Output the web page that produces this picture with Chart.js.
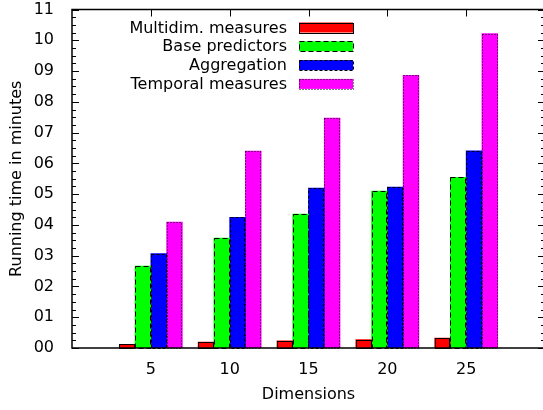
<!DOCTYPE html>
<html>
<head>
<meta charset="utf-8">
<script src="https://cdn.jsdelivr.net/npm/chart.js@4.4.1/dist/chart.umd.min.js"></script>
<style>
  html, body { margin: 0; padding: 0; background: #fff; overflow: hidden; }
  #wrap { width: 548px; height: 410px; }
</style>
</head>
<body>
<div id="wrap"><canvas id="myChart"></canvas></div>
<script>
// running times (minutes) per number of dimensions
const dimensions = ["5", "10", "15", "20", "25"];
const multidimMeasures = [0.12, 0.19, 0.23, 0.27, 0.32];
const basePredictors = [2.66, 3.57, 4.35, 5.1, 5.55];
const aggregation = [3.07, 4.25, 5.2, 5.23, 6.41];
const temporalMeasures = [4.09, 6.4, 7.47, 8.86, 10.22];
const yMax = 11;

Chart.defaults.font.family = "'DejaVu Sans', sans-serif";
Chart.defaults.font.size = 16;
Chart.defaults.color = "#000";

// slot 0..3 inside each cluster, bar width = 0.2 of a category step
function series(label, values, color, dash, slot) {
  return {
    label: label,
    data: values.map(function (v, i) {
      return { x: i + (slot - 1.5) * 0.2, y: v };
    }),
    backgroundColor: color,
    borderWidth: 0,
    outlineDash: dash,
  };
}

// gnuplot-like frame, inward ticks, dashed bar outlines and key
const gnuplotStyle = {
  id: "gnuplotStyle",
  beforeDatasetsDraw: function (chart) {
    const ctx = chart.ctx;
    const a = chart.chartArea;
    const xs = chart.scales.x;
    const ys = chart.scales.y;
    ctx.save();
    ctx.strokeStyle = "#000";
    ctx.lineWidth = 1;
    for (let v = 0; v <= yMax; v += 0.25) {
      const py = Math.round(ys.getPixelForValue(v)) + 0.5;
      const len = v % 1 === 0 ? 7 : 4;
      ctx.beginPath();
      ctx.moveTo(a.left, py);
      ctx.lineTo(a.left + len, py);
      ctx.moveTo(a.right, py);
      ctx.lineTo(a.right - len, py);
      ctx.stroke();
    }
    dimensions.forEach(function (_, i) {
      const px = Math.round(xs.getPixelForValue(i)) + 0.5;
      ctx.beginPath();
      ctx.moveTo(px, a.top);
      ctx.lineTo(px, a.top + 7);
      ctx.moveTo(px, a.bottom);
      ctx.lineTo(px, a.bottom - 7);
      ctx.stroke();
    });
    ctx.restore();
  },
  afterDatasetsDraw: function (chart) {
    const ctx = chart.ctx;
    const a = chart.chartArea;
    ctx.save();
    ctx.strokeStyle = "#000";
    ctx.lineWidth = 1;
    chart.data.datasets.forEach(function (ds, di) {
      const meta = chart.getDatasetMeta(di);
      ctx.setLineDash(ds.outlineDash);
      meta.data.forEach(function (bar) {
        const p = bar.getProps(["x", "y", "base", "width"], true);
        const l = Math.round(p.x - p.width / 2);
        const r = Math.round(p.x + p.width / 2);
        const t = Math.round(p.y);
        const b = Math.round(p.base);
        ctx.strokeRect(l + 0.5, t + 0.5, r - l - 1, b - t);
      });
    });
    ctx.setLineDash([]);

    // frame
    ctx.lineWidth = 1.5;
    ctx.strokeRect(a.left, a.top, a.right - a.left, a.bottom - a.top);

    // key, text on the left of the sample box
    ctx.font = "16px 'DejaVu Sans', sans-serif";
    ctx.textAlign = "right";
    ctx.textBaseline = "middle";
    chart.data.datasets.forEach(function (ds, i) {
      const cy = 27.5 + i * 18.8;
      ctx.fillStyle = "#000";
      ctx.fillText(ds.label, 287, cy + 1);
      ctx.fillStyle = ds.backgroundColor;
      ctx.fillRect(299, cy - 5, 54, 10);
      ctx.lineWidth = 1;
      ctx.setLineDash(ds.outlineDash);
      ctx.strokeRect(299.5, Math.round(cy - 5) + 0.5, 54, 10);
      ctx.setLineDash([]);
    });
    ctx.restore();
  },
};

const ctx = document.getElementById("myChart");
new Chart(ctx, {
  type: "bar",
  data: {
    datasets: [
      series("Multidim. measures", multidimMeasures, "#ff0000", [], 0),
      series("Base predictors", basePredictors, "#00ff00", [5, 3], 1),
      series("Aggregation", aggregation, "#0000ff", [3, 2], 2),
      series("Temporal measures", temporalMeasures, "#ff00ff", [1, 2], 3),
    ],
  },
  options: {
    responsive: true,
    maintainAspectRatio: false,
    animation: false,
    devicePixelRatio: 1,
    layout: { padding: { top: 0, right: 3, left: 0, bottom: 0 } },
    datasets: { bar: { grouped: false, barThickness: 15.8 } },
    plugins: {
      legend: { display: false },
      tooltip: { enabled: false },
    },
    scales: {
      x: {
        type: "linear",
        offset: false,
        min: -1,
        max: 5,
        grid: { display: false },
        border: { display: false },
        afterBuildTicks: function (scale) {
          scale.ticks = dimensions.map(function (_, i) {
            return { value: i };
          });
        },
        afterFit: function (scale) {
          scale.height = 62;
        },
        ticks: {
          padding: 4,
          maxRotation: 0,
          callback: function (value) {
            return dimensions[value];
          },
        },
        title: {
          display: true,
          text: "Dimensions",
          padding: { top: 0, bottom: 6 },
        },
      },
      y: {
        min: 0,
        max: yMax,
        grid: { display: false },
        border: { display: false },
        afterFit: function (scale) {
          scale.width = 72;
          scale.paddingTop = 9.5;
          scale.paddingBottom = 0;
        },
        ticks: {
          stepSize: 1,
          padding: 10,
          callback: function (value) {
            return String(value).padStart(2, "0");
          },
        },
        title: {
          display: true,
          text: "Running time in minutes",
          padding: { top: 7, bottom: 0 },
        },
      },
    },
  },
  plugins: [gnuplotStyle],
});
</script>
</body>
</html>
